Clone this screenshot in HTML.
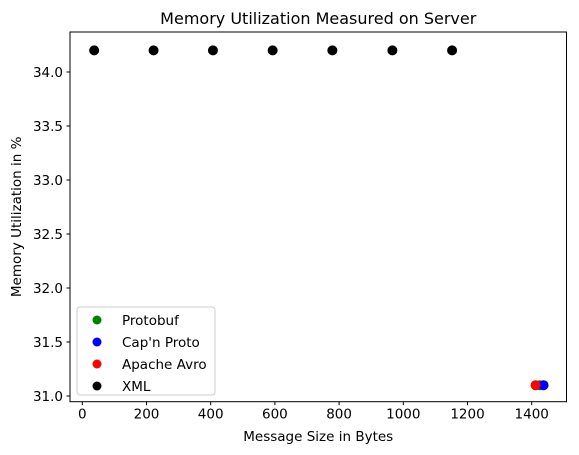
<!DOCTYPE html>
<html><head><meta charset="utf-8"><style>body{margin:0;background:#fff}svg{display:block;font-family:"DejaVu Sans","Liberation Sans",sans-serif}</style></head>
<body>
<svg id="chart" width="579" height="455" xmlns="http://www.w3.org/2000/svg"></svg>
<script>
const xTicks=[0,200,400,600,800,1000,1200,1400];
const yTicks=[31.0,31.5,32.0,32.5,33.0,33.5,34.0];
const xmlX=[37,222,407,593,779,966,1152];
const xmlY=[34.2,34.2,34.2,34.2,34.2,34.2,34.2];
const protoX=[1425];const protoY=[31.1];
const capnX=[1437];const capnY=[31.1];
const avroX=[1412];const avroY=[31.1];
const seriesNames=["Protobuf","Cap'n Proto","Apache Avro","XML"];
const seriesColors=["green","blue","red","black"];

const L=70,R=566.5,T=32,B=401.7;
const sx=v=>82.3+v*0.3210;
const sy=v=>396-(v-31)*108;
const svg=document.getElementById('chart');
const NS='http://www.w3.org/2000/svg';
function mk(t,a,p){const e=document.createElementNS(NS,t);for(const k in a)e.setAttribute(k,a[k]);(p||svg).appendChild(e);return e;}
function txt(s,a){const e=mk('text',a);e.textContent=s;return e;}

const series=[[protoX,protoY],[capnX,capnY],[avroX,avroY],[xmlX,xmlY]];
series.forEach((sr,i)=>{
  const g=mk('g',{});
  
  
  sr[0].forEach((x,j)=>{
    const c=mk('circle',{cx:sx(x),cy:sy(sr[1][j]),r:5,fill:seriesColors[i]},g);
    
    
  });
});

const frame=mk('rect',{x:L,y:T,width:R-L,height:B-T,fill:'none',stroke:'#000','stroke-width':1});



xTicks.forEach(v=>{
  const x=sx(v);
  mk('line',{x1:x,x2:x,y1:B,y2:B+3.5,stroke:'#000'});
  const t=txt(String(v),{x:x,y:B+17,'text-anchor':'middle','font-size':'13.5'});
  
  
});
yTicks.forEach(v=>{
  const y=sy(v);
  mk('line',{x1:L,x2:L-3.5,y1:y,y2:y,stroke:'#000'});
  const t=txt(v.toFixed(1),{x:L-7,y:y+5,'text-anchor':'end','font-size':'13.5'});
  
  
});

const title=txt('Memory Utilization Measured on Server',{x:(L+R)/2,y:24,'text-anchor':'middle','font-size':'16'});


const xl=txt('Message Size in Bytes',{x:(L+R)/2,y:441,'text-anchor':'middle','font-size':'13.5'});


const yl=txt('Memory Utilization in %',{x:0,y:0,'text-anchor':'middle','font-size':'13.5',transform:'translate(21,'+((T+B)/2)+') rotate(-90)'});



const lg=mk('g',{});


mk('rect',{x:77,y:307,width:138,height:88,rx:3,fill:'#fff','fill-opacity':0.8,stroke:'#ccc'},lg);
seriesNames.forEach((n,i)=>{
  const y=320+i*22;
  const e=mk('g',{},lg);
  
  
  mk('circle',{cx:97,cy:y,r:4.5,fill:seriesColors[i]},e);
  const t=mk('text',{x:122,y:y+5,'font-size':'13.5'},e);t.textContent=n;
});
</script>
</body></html>
